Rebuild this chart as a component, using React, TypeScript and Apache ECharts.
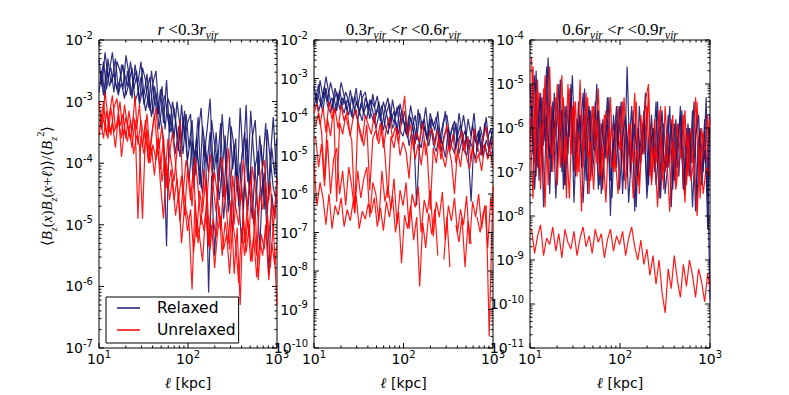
import React, { useEffect, useRef } from "react";
import * as echarts from "echarts";

// ---- x positions (ell in kpc): two interleaved sample grids ----
const ellA = [10, 10.8, 11.7, 12.6, 13.6, 14.7, 15.9, 17.2, 18.6, 20.1, 21.7, 23.5, 25.4, 27.4, 29.6, 32, 34.6, 37.4, 40.4, 43.7, 47.2, 51, 55.2, 59.6, 64.4, 69.7, 75.3, 81.4, 88, 95.1, 102.8, 111.1, 120, 129.8, 140.3, 151.6, 163.9, 177.1, 191.5, 207, 223.7, 241.8, 261.4, 282.5, 305.4, 330.1, 356.8, 385.6, 416.8, 450.6, 487, 526.4, 569, 615, 664.8, 718.6, 776.7, 839.5, 907.4, 1000];
const ellB = [10.4, 11.25, 12.15, 13.1, 14.15, 15.3, 16.55, 17.9, 19.35, 20.9, 22.6, 24.45, 26.4, 28.5, 30.8, 33.3, 36, 38.9, 42, 45.4, 49.1, 53.1, 57.4, 62, 67, 72.4, 78.3, 84.6, 91.5, 98.9, 106.9, 115.5, 124.8, 134.9, 145.8, 157.6, 170.4, 184.2, 199.1, 215.2, 232.6, 251.4, 271.8, 293.7, 317.5, 343.2, 371, 401, 433.4, 468.5, 506.4, 547.3, 591.6, 639.4, 691.1, 747, 807.4, 872.7, 943.3, 990];

// ---- values, stored as log10 of the correlation (null = negative / gap) ----
// Panel 1: r < 0.3 r_vir
const p1RelaxedA = [-2.3,-2.75,-2.2,-2.6,-2.45,-2.85,-2.35,-2.5,-2.8,-2.25,-2.55,-2.95,-2.4,-2.7,-2.35,-2.9,-2.55,-3.15,-2.7,-2.5,-3.2,-2.75,-3.45,-2.95,-3.1,-3.6,-3.0,-3.4,-3.85,-3.2,-3.75,-3.3,-4.2,-3.55,-3.1,-3.9,-3.45,-2.95,-4.1,-3.5,-4.3,-3.2,-3.9,-4.6,-3.4,-3.75,-4.4,-3.1,-3.95,-3.05,-4.5,-3.6,-3.3,-4.2,-3.7,-4.75,-3.45,-3.95,-3.25,-4.35];
const p1RelaxedB = [-2.65,-2.35,-2.8,-2.5,-2.2,-2.7,-2.9,-2.4,-2.55,-2.75,-2.35,-2.8,-2.6,-3.0,-2.45,-2.65,-3.1,-2.5,-2.95,-3.2,-2.8,-3.35,-2.65,-3.5,-3.0,-3.3,-3.8,-3.05,-3.6,-3.35,-3.2,-4.05,-3.6,-4.35,-3.4,-3.8,-4.15,-3.3,-3.7,-4.0,-3.35,-4.55,-3.8,-3.25,-4.1,-3.6,-4.7,-3.9,-3.5,-4.3,-3.15,-3.85,-4.45,-3.55,-4.05,-3.35,-4.6,-3.75,-4.2,-3.6];
const p1RelaxedC = [-2.85,-2.5,-2.95,-2.3,-2.7,-2.55,-2.8,-2.65,-2.4,-2.9,-2.7,-2.45,-3.0,-2.85,-2.6,-3.05,-2.8,-2.6,-3.2,-2.85,-3.45,-3.05,-2.9,-3.3,-3.5,-3.1,-3.55,-3.9,-3.25,-3.7,-4.3,-3.65,-3.9,-3.25,-4.4,-3.7,-4.0,-3.5,-4.3,-3.85,-4.6,-4.1,-3.55,-4.8,-4.2,-3.7,-4.45,-4.0,-4.75,-3.6,-4.3,-4.9,-4.05,-3.8,-4.55,-4.15,-4.85,-3.9,-4.4,-4.65];
const p1RelaxedD = [-2.55,-2.9,-2.45,-2.75,-2.6,-2.3,-2.85,-2.7,-2.95,-2.5,-2.9,-2.65,-2.5,-3.05,-2.8,-3.15,-2.9,-3.25,-2.75,-3.05,-3.3,-3.6,-5.35,-3.2,-3.45,-3.85,-3.4,-3.7,-3.15,-3.95,-3.6,-4.4,-3.8,-4.1,-4.5,-3.7,-6.1,-4.2,-5.5,-4.45,-3.9,-4.9,-4.3,-4.65,-5.1,-4.0,-4.6,-5.3,-4.35,-4.8,-4.1,-5.0,-4.45,-5.4,-4.25,-4.7,-5.8,-4.5,-4.9,-4.3];
const p1UnrelaxedA = [-3.0,-3.45,-2.85,-3.25,-3.55,-3.1,-2.95,-3.4,-3.2,-3.6,-3.15,-3.5,-2.9,-3.7,-3.3,-3.6,-3.2,-3.85,-3.4,-3.1,-3.75,-3.4,-4.2,-3.6,-3.95,-4.3,-3.8,-3.3,-4.5,-3.95,-4.2,-4.7,-3.9,-4.4,-5.0,-4.1,-4.55,-3.85,-4.35,-4.8,-4.1,-3.9,-4.6,-3.75,-4.35,-5.0,-4.2,-4.65,-3.95,-4.5,-5.2,-4.05,-4.4,-4.85,-4.15,-3.95,-4.7,-4.3,-5.1,-4.25];
const p1UnrelaxedB = [-3.35,-3.0,-3.55,-3.2,-2.9,-3.45,-3.3,-3.6,-3.05,-3.4,-3.6,-3.25,-3.45,-3.05,-3.75,-3.3,-3.95,-3.55,-3.2,-3.8,-4.1,-3.6,-4.4,-3.85,-3.5,-4.0,-4.6,-4.2,-4.85,-4.1,-4.6,-4.05,-5.2,-4.45,-4.8,-4.25,-5.3,-4.5,-4.15,-4.55,-5.1,-4.35,-4.8,-5.4,-4.2,-4.7,-5.0,-4.4,-5.3,-4.6,-4.25,-4.95,-5.5,-4.5,-4.75,-4.3,-5.2,-4.65,-4.9,-4.45];
const p1UnrelaxedC = [-3.55,-3.2,-3.4,-3.6,-3.1,-3.5,-3.35,-3.0,-3.55,-3.25,-3.45,-3.75,-3.3,-4.9,-3.55,-3.85,-3.45,-4.0,-3.7,-3.95,-3.6,-4.3,-3.9,-4.45,-4.1,-4.6,-4.25,-4.95,-4.4,-4.75,-5.0,-6.05,-4.6,-5.3,-4.85,-5.1,-4.5,-5.4,-4.9,-5.2,-4.7,-5.5,-4.95,-5.3,-4.6,-5.8,-5.05,-6.3,-4.8,-5.45,-5.0,-5.6,-4.75,-5.9,-5.15,-5.4,-4.85,-5.7,-5.0,-6.3];
const p1UnrelaxedD = [-3.3,-3.6,-3.15,-3.5,-3.35,-3.75,-3.2,-3.9,-3.45,-3.65,-3.3,-3.85,-3.55,-3.7,-4.9,-3.5,-4.0,-3.75,-4.2,-3.6,-4.35,-4.9,-4.0,-4.6,-4.25,-4.85,-4.5,-5.3,-4.7,-5.1,-4.75,-5.45,-4.9,-5.2,-5.6,-4.8,-5.35,-5.0,-5.7,-5.1,-4.85,-5.4,-5.15,-5.8,-4.95,-5.3,-5.95,-5.05,-5.5,-4.9,-5.6,-5.2,-5.85,-5.25,-5.5,-5.0,-5.9,-5.3,-5.65,-5.35];

// Panel 2: 0.3 r_vir < r < 0.6 r_vir
const p2RelaxedA = [-3.2,-3.65,-3.05,-3.5,-2.95,-3.4,-3.8,-3.25,-3.6,-3.1,-3.45,-3.85,-3.3,-3.7,-3.25,-3.95,-3.5,-3.35,-3.8,-3.55,-3.75,-3.45,-4.1,-3.6,-3.9,-4.3,-3.55,-4.0,-3.7,-4.2,-3.85,-4.4,-3.7,-4.15,-4.6,-3.9,-4.3,-3.75,-4.5,-4.05,-4.35,-3.85,-4.7,-4.1,-3.95,-4.55,-4.2,-4.85,-3.9,-4.4,-4.75,-4.05,-4.5,-3.9,-4.9,-4.25,-4.6,-4.0,-4.8,-4.3];
const p2RelaxedB = [-3.55,-3.15,-3.75,-3.35,-3.6,-3.1,-3.45,-3.85,-3.3,-3.7,-3.35,-3.6,-4.0,-3.45,-3.75,-3.3,-3.9,-3.65,-4.05,-3.4,-3.95,-3.6,-4.25,-3.8,-3.5,-4.1,-3.85,-4.4,-3.65,-4.05,-4.45,-3.95,-4.2,-4.7,-3.8,-4.35,-4.05,-4.6,-3.9,-4.25,-4.0,-4.6,-4.25,-3.85,-4.8,-4.35,-4.1,-4.65,-4.45,-3.95,-4.5,-4.85,-4.2,-4.65,-4.35,-5.0,-4.15,-4.55,-4.3,-4.7];
const p2RelaxedC = [-3.75,-3.4,-3.6,-3.85,-3.25,-3.7,-3.5,-3.9,-3.4,-3.65,-3.9,-3.55,-3.75,-4.05,-3.6,-3.85,-4.1,-3.5,-3.7,-3.95,-4.15,-3.8,-4.0,-4.35,-3.9,-3.65,-4.3,-4.1,-4.45,-3.85,-4.2,-4.55,-4.0,-4.35,-6.3,-4.6,-4.1,-4.45,-4.75,-4.3,-4.65,-4.2,-4.9,-4.5,-4.3,-4.8,-4.55,-4.15,-4.95,-4.6,-4.35,-4.85,-6.2,-4.5,-4.75,-4.4,-5.05,-4.6,-4.85,-5.0];
const p2RelaxedD = [-3.4,-3.85,-3.55,-3.2,-3.7,-3.9,-3.6,-3.35,-3.8,-3.5,-3.7,-3.95,-3.45,-3.8,-4.1,-3.65,-3.9,-4.05,-3.55,-3.85,-4.3,-3.95,-3.7,-4.2,-4.45,-3.9,-4.15,-3.75,-4.35,-4.5,-4.1,-4.75,-4.3,-3.95,-4.6,-4.8,-4.25,-4.55,-4.05,-4.7,-4.9,-4.45,-4.7,-5.05,-4.3,-4.75,-4.95,-4.5,-4.2,-4.85,-5.0,-4.6,-4.8,-5.1,-4.45,-4.9,-4.7,-5.05,-4.55,-4.95];
const p2UnrelaxedA = [-3.9,-3.65,-4.2,-3.75,-4.4,-3.6,-4.05,-3.8,-4.3,-3.7,-4.1,-3.85,-4.5,-4.0,-3.8,-4.35,-4.65,-3.95,-4.2,-4.45,-3.9,-4.6,-4.15,-4.8,-4.3,-4.0,-4.55,-4.25,-4.7,-4.1,-3.45,-4.5,-4.2,-4.85,-4.4,-4.65,-4.15,-5.0,-4.5,-4.3,-4.75,-4.35,-5.1,-4.6,-4.2,-4.9,-4.45,-5.2,-4.7,-4.35,-4.85,-4.5,-5.15,-4.3,-4.75,-5.0,-4.55,-4.25,-4.9,-4.6];
const p2UnrelaxedB = [-4.25,-3.9,-4.4,-5.6,-4.05,-4.5,-3.75,-6.2,-4.15,-4.45,-3.95,-4.3,-4.6,-6.5,-4.1,-4.4,-4.75,-4.2,-5.9,-4.55,-4.35,-4.7,-4.2,-4.95,-6.1,-4.5,-4.8,-4.3,-5.0,-4.65,-4.9,-5.6,-4.45,-5.1,-4.7,-5.25,-4.6,-4.95,-6.4,-4.8,-5.2,-4.55,-5.0,-5.3,-4.75,-5.15,-6.0,-4.85,-5.3,-4.6,-5.05,-5.35,-4.8,-5.2,-4.95,-5.4,-4.7,-5.1,-4.9,-5.3];
const p2UnrelaxedC = [-5.2,-6.3,-5.7,-6.1,-6.8,-6.0,-6.9,-6.3,-6.55,-6.1,-6.85,-6.4,-6.7,-6.2,-6.05,-6.9,-6.45,-6.65,-6.25,-6.5,-6.1,-6.85,-6.35,-6.95,-6.2,-6.6,-6.05,-7.0,-6.45,-7.8,-6.55,-6.9,-6.3,-7.2,-6.6,-8.4,-6.75,-7.4,-6.5,-7.05,-6.4,-7.6,null,-7.7,-6.6,-7.9,null,-6.8,-7.25,-6.6,-7.9,-6.7,-7.3,null,-6.6,-7.0,-6.5,-6.3,-9.7,-5.8];
const p2UnrelaxedD = [-4.5,-5.3,-4.7,-5.8,-4.6,-6.0,-5.1,-4.8,-6.0,-5.4,-6.3,-5.3,-5.8,-6.5,-5.4,-6.1,-5.6,-5.3,-6.6,-5.7,-6.0,-6.7,-5.4,-6.2,-5.8,-6.4,-5.6,-6.8,-5.9,-6.3,-5.7,-6.9,-6.0,-6.35,-5.8,-7.0,-6.15,-6.5,-5.9,-7.1,-6.2,-6.6,-5.95,-7.2,-6.3,-6.7,-6.1,-7.0,-6.4,-6.8,-6.05,-7.3,-6.2,-6.6,-6.0,-6.9,-6.3,-7.4,-6.1,-6.5];

// Panel 3: 0.6 r_vir < r < 0.9 r_vir
const p3RelaxedA = [-5.0,-6.6,-4.7,-7.2,-5.3,-6.3,-4.4,-7.0,-5.2,-6.8,-4.9,-7.4,-5.5,-6.2,-4.8,-7.1,-5.4,-6.9,-5.1,-7.5,-5.6,-6.5,-5.0,-7.3,-5.8,-6.7,-5.3,-7.6,-5.9,-6.4,-5.4,-7.2,-4.6,-7.0,-5.6,-7.8,-5.5,-6.6,-5.2,-7.3,-5.7,-7.0,-5.4,-7.6,-5.9,-6.9,-5.5,-7.4,-5.8,-7.1,-5.6,-7.5,-5.9,-6.8,-5.4,-7.7,-6.0,-7.0,-5.3,-9.9];
const p3RelaxedB = [-6.0,-4.8,-6.9,-5.3,-6.4,-4.6,-7.5,-5.6,-6.2,-5.0,-7.0,-5.5,-6.6,-5.0,-7.7,-5.8,-6.3,-5.2,-7.2,-5.6,-6.8,-5.4,-7.4,-5.9,-6.5,-5.3,-8.0,-5.7,-6.9,-5.5,-7.5,-5.8,-6.6,-5.5,-7.9,-6.0,-6.8,-5.6,-7.3,-5.9,-6.7,-5.4,-7.6,-6.1,-7.0,-5.7,-7.8,-5.9,-6.9,-5.5,-7.4,-6.0,-7.1,-5.6,-7.9,-6.2,-7.2,-5.8,-8.3,-5.7];
const p3RelaxedC = [-5.5,-7.4,-6.1,-5.2,-7.8,-5.7,-6.7,-5.4,-7.6,-6.0,-5.6,-7.3,-6.2,-5.3,-7.0,-6.4,-5.7,-7.7,-6.1,-5.5,-7.1,-6.3,-5.6,-7.5,-6.6,-5.8,-7.2,-6.4,-5.5,-7.4,-6.2,-5.7,-7.7,-6.5,-5.9,-7.1,-6.3,-5.8,-7.6,-6.5,-6.0,-7.3,-6.4,-5.6,-7.5,-6.7,-5.9,-7.2,-6.3,-5.7,-7.4,-6.6,-6.0,-7.8,-6.2,-5.7,-7.3,-6.5,-7.6,-6.0];
const p3UnrelaxedA = [-4.4,-6.8,-4.9,-7.4,-5.1,-6.5,-4.6,-7.0,-5.3,-6.2,-4.8,-7.3,-5.0,-6.6,-5.4,-7.1,-4.9,-6.9,-5.2,-7.5,-5.5,-6.4,-5.1,-7.2,-5.7,-6.8,-5.3,-7.0,-5.8,-6.5,-5.4,-7.4,-5.9,-6.7,-5.2,-7.3,-5.7,-6.6,-5.5,-7.1,-6.0,-6.8,-5.6,-7.2,-5.5,-6.9,-5.8,-7.0,-5.9,-6.6,-5.7,-7.3,-6.1,-6.8,-5.3,-7.1,-6.0,-6.7,-5.7,-7.0];
const p3UnrelaxedB = [-6.3,-4.6,-7.1,-5.2,-6.7,-4.8,-7.3,-5.5,-6.4,-5.0,-6.9,-5.3,-7.6,-5.1,-6.6,-5.4,-7.0,-5.6,-6.5,-5.3,-7.2,-5.5,-6.8,-5.8,-7.4,-5.6,-6.6,-5.9,-7.0,-5.5,-6.4,-5.3,-7.1,-5.9,-6.8,-5.4,-7.5,-6.0,-6.6,-5.2,-7.2,-5.8,-6.9,-5.5,-7.4,-6.1,-6.8,-5.7,-7.3,-5.9,-6.7,-5.6,-7.1,-6.0,-6.9,-5.4,-7.6,-6.1,-6.8,-5.8];
const p3UnrelaxedC = [-5.8,-7.6,-5.2,-6.9,-5.9,-7.8,-5.4,-6.6,-6.0,-7.3,-5.6,-6.8,-6.2,-7.6,-5.5,-7.0,-6.1,-7.9,-5.7,-6.7,-6.3,-7.4,-5.8,-7.1,-6.4,-7.7,-6.0,-6.9,-6.6,-7.5,-6.2,-7.0,null,-6.3,-7.6,-6.5,-7.2,-6.1,-5.4,-5.0,-7.3,-6.4,-7.8,-6.2,-7.0,-6.6,-7.9,-6.3,-7.4,-6.8,-6.5,-7.7,-6.1,-7.2,-6.7,-8.0,-6.4,-7.5,-6.9,-7.1];
const p3UnrelaxedD = [-8.3,-8.85,-8.45,-8.2,-8.9,-8.5,-8.65,-8.25,-8.8,-8.4,-8.95,-8.3,-8.6,-8.75,-8.35,-8.9,-8.5,-8.25,-8.7,-8.45,-8.85,-8.3,-8.6,-8.4,-8.95,-8.55,-8.3,-8.8,-8.45,-8.65,-8.35,-8.9,-8.5,-8.25,-8.7,-9.0,-8.55,-9.1,-8.75,-9.35,-8.9,-9.55,-9.0,-9.75,-10.2,-9.2,-9.65,-8.9,-9.45,-9.85,-9.1,-9.6,-9.0,-9.35,-9.85,-9.2,-9.5,-9.95,-9.3,-9.6];

// ---- labels ----
const legendNames = ["Relaxed", "Unrelaxed"];
const panelTitles = [
  "{i|r}{n| <0.3}{i|r}{sub|vir}",
  "{n|0.3}{i|r}{sub|vir}{n| <}{i|r}{n| <0.6}{i|r}{sub|vir}",
  "{n|0.6}{i|r}{sub|vir}{n| <}{i|r}{n| <0.9}{i|r}{sub|vir}",
];
const xExpRange = [1, 3];
const yExpRanges = [[-7, -2], [-10, -2], [-11, -4]];

const NAVY = "#191970";
const RED = "#ff0000";

const panelLayout = [
  { left: 99, width: 178 },
  { left: 314, width: 179 },
  { left: 530, width: 180 },
];
const TOP = 40;
const HEIGHT = 315;

const serif = "Liberation Serif";
const sans = "DejaVu Sans";

const mathRich = (size: number) => ({
  n: { fontFamily: serif, fontSize: size, color: "#000", lineHeight: size + 8, verticalAlign: "middle" },
  i: { fontFamily: serif, fontStyle: "italic", fontSize: size, color: "#000", lineHeight: size + 8, verticalAlign: "middle" },
  sub: { fontFamily: serif, fontStyle: "italic", fontSize: size * 0.68, color: "#000", lineHeight: size * 0.8, verticalAlign: "bottom" },
  sup: { fontFamily: serif, fontSize: size * 0.68, color: "#000", lineHeight: size * 0.8, verticalAlign: "top" },
});

const tickRich = {
  b: { fontFamily: sans, fontSize: 14, color: "#000", lineHeight: 20, verticalAlign: "middle" },
  s: { fontFamily: sans, fontSize: 10, color: "#000", lineHeight: 12, verticalAlign: "top" },
};

const powLabel = (v: number) => `{b|10}{s|${Math.round(Math.log10(v))}}`;

function toData(arr: (number | null)[], xs: number[]) {
  return arr.map((v, i) => [xs[i], v === null ? "-" : Math.pow(10, v)]);
}

function tickItems(yr: number[]) {
  const items: number[][] = [];
  const yMin = Math.pow(10, yr[0]);
  for (let e = xExpRange[0]; e <= xExpRange[1]; e++) {
    items.push([Math.pow(10, e), yMin, 0, 1]);
    if (e < xExpRange[1]) for (let m = 2; m <= 9; m++) items.push([m * Math.pow(10, e), yMin, 0, 0]);
  }
  for (let e = yr[0]; e <= yr[1]; e++) {
    items.push([10, Math.pow(10, e), 1, 1]);
    if (e < yr[1]) for (let m = 2; m <= 9; m++) items.push([10, m * Math.pow(10, e), 1, 0]);
  }
  return items;
}

export default function App() {
  const ref = useRef<HTMLDivElement>(null);
  useEffect(() => {
    if (!ref.current) return;
    const chart = echarts.init(ref.current, undefined, { renderer: "svg" });

    const panelSeries: any[][] = [
      [
        ["Relaxed", p1RelaxedA, NAVY, ellA], ["Relaxed", p1RelaxedB, NAVY, ellB], ["Relaxed", p1RelaxedC, NAVY, ellA], ["Relaxed", p1RelaxedD, NAVY, ellB],
        ["Unrelaxed", p1UnrelaxedA, RED, ellA], ["Unrelaxed", p1UnrelaxedB, RED, ellB], ["Unrelaxed", p1UnrelaxedC, RED, ellA], ["Unrelaxed", p1UnrelaxedD, RED, ellB],
      ],
      [
        ["Relaxed", p2RelaxedA, NAVY, ellA], ["Relaxed", p2RelaxedB, NAVY, ellB], ["Relaxed", p2RelaxedC, NAVY, ellA], ["Relaxed", p2RelaxedD, NAVY, ellB],
        ["Unrelaxed", p2UnrelaxedA, RED, ellA], ["Unrelaxed", p2UnrelaxedB, RED, ellB], ["Unrelaxed", p2UnrelaxedC, RED, ellA], ["Unrelaxed", p2UnrelaxedD, RED, ellB],
      ],
      [
        ["Relaxed", p3RelaxedA, NAVY, ellA], ["Unrelaxed", p3UnrelaxedA, RED, ellB], ["Relaxed", p3RelaxedB, NAVY, ellB], ["Unrelaxed", p3UnrelaxedB, RED, ellA],
        ["Relaxed", p3RelaxedC, NAVY, ellB], ["Unrelaxed", p3UnrelaxedC, RED, ellA], ["Unrelaxed", p3UnrelaxedD, RED, ellB],
      ],
    ];

    const series: any[] = [];
    panelSeries.forEach((list, gi) => {
      list.forEach((s: any) => {
        series.push({
          type: "line",
          name: s[0],
          xAxisIndex: gi,
          yAxisIndex: gi,
          data: toData(s[1], s[3]),
          symbol: "none",
          showSymbol: false,
          silent: true,
          color: s[2],
          itemStyle: { color: s[2] },
          lineStyle: { color: s[2], width: 1.2, opacity: 0.9 },
          z: 2,
        });
      });
      const yr = yExpRanges[gi];
      const yMin = Math.pow(10, yr[0]);
      const yMax = Math.pow(10, yr[1]);
      series.push({
        type: "custom",
        xAxisIndex: gi,
        yAxisIndex: gi,
        silent: true,
        z: 10,
        clip: false,
        data: tickItems(yr),
        renderItem: (params: any, api: any) => {
          const kind = api.value(2);
          const major = api.value(3);
          const len = major ? 5 : 2.5;
          const st = { stroke: "#000", lineWidth: 1 };
          if (kind === 0) {
            const xv = api.value(0);
            const a = api.coord([xv, yMin]);
            const b = api.coord([xv, yMax]);
            return {
              type: "group",
              children: [
                { type: "line", shape: { x1: a[0], y1: a[1], x2: a[0], y2: a[1] - len }, style: st },
                { type: "line", shape: { x1: b[0], y1: b[1], x2: b[0], y2: b[1] + len }, style: st },
              ],
            };
          }
          const yv = api.value(1);
          const a = api.coord([10, yv]);
          const b = api.coord([1000, yv]);
          return {
            type: "group",
            children: [
              { type: "line", shape: { x1: a[0], y1: a[1], x2: a[0] + len, y2: a[1] }, style: st },
              { type: "line", shape: { x1: b[0], y1: b[1], x2: b[0] - len, y2: b[1] }, style: st },
            ],
          };
        },
      });
    });

    const option: any = {
      animation: false,
      backgroundColor: "#fff",
      grid: panelLayout.map((p) => ({
        left: p.left, top: TOP, width: p.width, height: HEIGHT,
        show: true, borderColor: "#000", borderWidth: 1, backgroundColor: "transparent",
      })),
      xAxis: panelLayout.map((p, gi) => ({
        type: "log",
        logBase: 10,
        gridIndex: gi,
        min: 10,
        max: 1000,
        interval: 1,
        axisLine: { show: false },
        axisTick: { show: false },
        splitLine: { show: false },
        axisLabel: {
          margin: 1,
          showMinLabel: true,
          showMaxLabel: true,
          formatter: powLabel,
          rich: tickRich,
        },
        name: "{i|ℓ}{t| [kpc]}",
        nameLocation: "middle",
        nameGap: 27,
        nameTextStyle: {
          rich: {
            i: { fontFamily: serif, fontStyle: "italic", fontSize: 15, color: "#000" },
            t: { fontFamily: sans, fontSize: 14, color: "#000" },
          },
        },
      })),
      yAxis: yExpRanges.map((yr, gi) => ({
        type: "log",
        logBase: 10,
        gridIndex: gi,
        min: Math.pow(10, yr[0]),
        max: Math.pow(10, yr[1]),
        interval: 1,
        axisLine: { show: false },
        axisTick: { show: false },
        splitLine: { show: false },
        axisLabel: {
          margin: 6,
          showMinLabel: true,
          showMaxLabel: true,
          formatter: powLabel,
          rich: tickRich,
        },
      })),
      legend: {
        data: legendNames,
        orient: "vertical",
        left: 106,
        top: 297,
        padding: [3, 3, 5, 11],
        itemGap: 6,
        itemWidth: 23,
        itemHeight: 1.5,
        icon: "rect",
        borderColor: "#000",
        borderWidth: 1,
        borderRadius: 0,
        backgroundColor: "#fff",
        selectedMode: false,
        textStyle: { fontFamily: sans, fontSize: 15.5, color: "#000", padding: [0, 0, 0, 12] },
      },
      graphic: [
        ...panelLayout.map((p, gi) => ({
          type: "text",
          x: p.left + p.width / 2,
          y: 29,
          silent: true,
          style: {
            text: panelTitles[gi],
            rich: mathRich(17),
            align: "center",
            verticalAlign: "middle",
          },
        })),
        {
          type: "text",
          x: 47,
          y: 186,
          rotation: Math.PI / 2,
          silent: true,
          style: {
            text: "{n|⟨}{i|B}{sub|z}{n|(}{i|x}{n|)}{i|B}{sub|z}{n|(}{i|x}{n|+}{i|ℓ}{n|)⟩/⟨}{i|B}{sub|z}{sup|2}{n|⟩}",
            rich: mathRich(15),
            align: "center",
            verticalAlign: "middle",
          },
        },
      ],
      series,
    };
    chart.setOption(option);
    return () => chart.dispose();
  }, []);

  return (
    <div
      ref={ref}
      style={{ position: "fixed", left: 0, top: 0, width: 789, height: 395, background: "#fff" }}
    />
  );
}
